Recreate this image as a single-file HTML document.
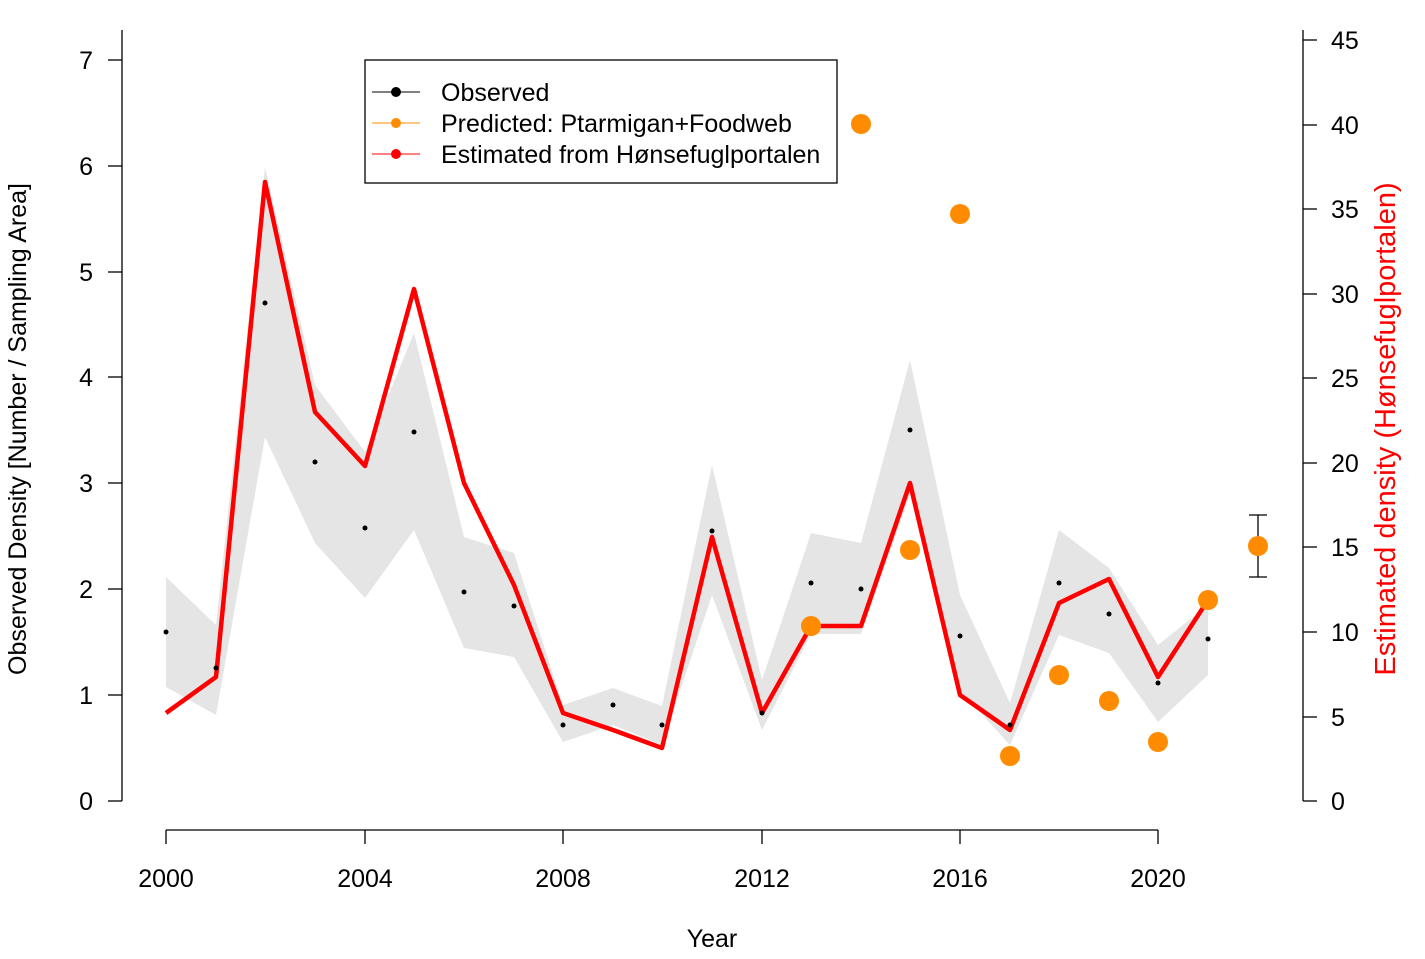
<!DOCTYPE html>
<html><head><meta charset="utf-8"><style>html,body{margin:0;padding:0;background:#fff}</style></head>
<body>
<svg width="1425" height="954" xmlns="http://www.w3.org/2000/svg" font-family="Liberation Sans, Arial, sans-serif">
<rect width="1425" height="954" fill="#fff"/>
<polygon fill="#e5e5e5" points="166,577 216,625 265,167 315,385 365,452 414,333 464,537 514,553 563,705 613,688 662,706 712,465 762,680 811,533 861,543 910,360 960,595 1010,703 1059,530 1109,568 1158,645 1208,605 1208,675 1158,722 1109,653 1059,635 1010,745 960,690 910,495 861,634 811,634 762,730 712,595 662,745 613,725 563,742 514,657 464,648 414,530 365,598 315,543 265,437 216,715 166,687"/>
<polyline fill="none" stroke="#f00" stroke-width="4.5" stroke-linejoin="round" points="166,713 216,677 265,182 315,412 365,466 414,289 464,483 514,585 563,713 613,730 662,748 712,537 762,713 811,626 861,626 910,483 960,695 1010,730 1059,603 1109,579 1158,677 1208,600"/>
<g fill="#000">
<circle cx="166" cy="632" r="2.5"/><circle cx="216" cy="668" r="2.5"/><circle cx="265" cy="303" r="2.5"/><circle cx="315" cy="462" r="2.5"/><circle cx="365" cy="528" r="2.5"/><circle cx="414" cy="432" r="2.5"/><circle cx="464" cy="592" r="2.5"/><circle cx="514" cy="606" r="2.5"/><circle cx="563" cy="725" r="2.5"/><circle cx="613" cy="705" r="2.5"/><circle cx="662" cy="725" r="2.5"/><circle cx="712" cy="531" r="2.5"/><circle cx="762" cy="713" r="2.5"/><circle cx="811" cy="583" r="2.5"/><circle cx="861" cy="589" r="2.5"/><circle cx="910" cy="430" r="2.5"/><circle cx="960" cy="636" r="2.5"/><circle cx="1010" cy="725" r="2.5"/><circle cx="1059" cy="583" r="2.5"/><circle cx="1109" cy="614" r="2.5"/><circle cx="1158" cy="683" r="2.5"/><circle cx="1208" cy="639" r="2.5"/>
</g>
<g stroke="#000" stroke-width="1.3"><line x1="1258" y1="515" x2="1258" y2="577"/><line x1="1249" y1="515" x2="1267" y2="515"/><line x1="1249" y1="577" x2="1267" y2="577"/></g>
<g fill="#ff8c00">
<circle cx="811" cy="626" r="10"/><circle cx="861" cy="124" r="10"/><circle cx="910" cy="550" r="10"/><circle cx="960" cy="214" r="10"/><circle cx="1010" cy="756" r="10"/><circle cx="1059" cy="675" r="10"/><circle cx="1109" cy="701" r="10"/><circle cx="1158" cy="742" r="10"/><circle cx="1208" cy="600" r="10"/><circle cx="1258" cy="546" r="10"/>
</g>
<g stroke="#000" stroke-width="1.3">
<line x1="122" y1="30" x2="122" y2="801"/>
<line x1="108" y1="801" x2="122" y2="801"/><line x1="108" y1="695" x2="122" y2="695"/><line x1="108" y1="589" x2="122" y2="589"/><line x1="108" y1="483" x2="122" y2="483"/><line x1="108" y1="377" x2="122" y2="377"/><line x1="108" y1="272" x2="122" y2="272"/><line x1="108" y1="166" x2="122" y2="166"/><line x1="108" y1="60" x2="122" y2="60"/>
</g>
<g font-size="25" text-anchor="end" fill="#000">
<text x="93" y="810">0</text><text x="93" y="704">1</text><text x="93" y="598">2</text><text x="93" y="492">3</text><text x="93" y="386">4</text><text x="93" y="281">5</text><text x="93" y="175">6</text><text x="93" y="69">7</text>
</g>
<g stroke="#000" stroke-width="1.3">
<line x1="1303" y1="30" x2="1303" y2="801"/>
<line x1="1303" y1="801" x2="1317" y2="801"/><line x1="1303" y1="717" x2="1317" y2="717"/><line x1="1303" y1="632" x2="1317" y2="632"/><line x1="1303" y1="547" x2="1317" y2="547"/><line x1="1303" y1="463" x2="1317" y2="463"/><line x1="1303" y1="378" x2="1317" y2="378"/><line x1="1303" y1="294" x2="1317" y2="294"/><line x1="1303" y1="209" x2="1317" y2="209"/><line x1="1303" y1="125" x2="1317" y2="125"/><line x1="1303" y1="40" x2="1317" y2="40"/>
</g>
<g font-size="25" text-anchor="start" fill="#000">
<text x="1331" y="810">0</text><text x="1331" y="726">5</text><text x="1331" y="641">10</text><text x="1331" y="556">15</text><text x="1331" y="472">20</text><text x="1331" y="387">25</text><text x="1331" y="303">30</text><text x="1331" y="218">35</text><text x="1331" y="134">40</text><text x="1331" y="49">45</text>
</g>
<g stroke="#000" stroke-width="1.3">
<line x1="166" y1="830" x2="1158" y2="830"/>
<line x1="166" y1="830" x2="166" y2="844"/><line x1="365" y1="830" x2="365" y2="844"/><line x1="563" y1="830" x2="563" y2="844"/><line x1="762" y1="830" x2="762" y2="844"/><line x1="960" y1="830" x2="960" y2="844"/><line x1="1158" y1="830" x2="1158" y2="844"/>
</g>
<g font-size="25" text-anchor="middle" fill="#000">
<text x="166" y="887">2000</text><text x="365" y="887">2004</text><text x="563" y="887">2008</text><text x="762" y="887">2012</text><text x="960" y="887">2016</text><text x="1158" y="887">2020</text>
<text x="712" y="947">Year</text>
</g>
<text transform="translate(26,429) rotate(-90)" font-size="25" text-anchor="middle" fill="#000">Observed Density [Number / Sampling Area]</text>
<text transform="translate(1395,429) rotate(-90)" font-size="29" text-anchor="middle" fill="#f00">Estimated density (Hønsefuglportalen)</text>
<rect x="365" y="60" width="472" height="123" fill="#fff" stroke="#000" stroke-width="1.3"/>
<line x1="372" y1="92" x2="420" y2="92" stroke="#000"/><circle cx="396" cy="92" r="5" fill="#000"/>
<line x1="372" y1="123" x2="420" y2="123" stroke="#ff8c00"/><circle cx="396" cy="123" r="5" fill="#ff8c00"/>
<line x1="372" y1="154" x2="420" y2="154" stroke="#f00"/><circle cx="396" cy="154" r="5" fill="#f00"/>
<g font-size="25" fill="#000">
<text x="441" y="101">Observed</text><text x="441" y="132">Predicted: Ptarmigan+Foodweb</text><text x="441" y="163">Estimated from Hønsefuglportalen</text>
</g>
</svg>
</body></html>
